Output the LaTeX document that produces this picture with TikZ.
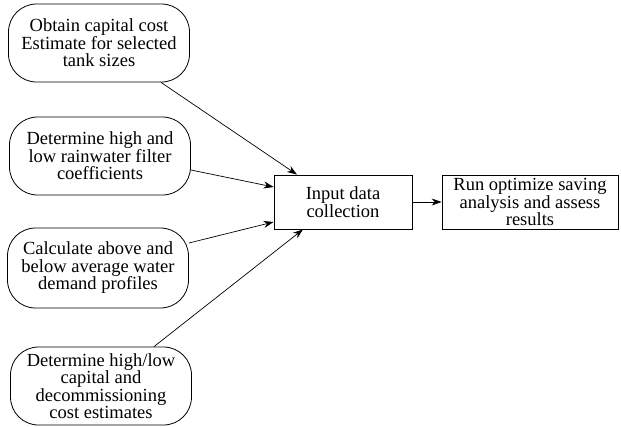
\documentclass[tikz,border=0pt]{standalone}
\usepackage{fontspec}
\setmainfont{Liberation Serif}
\usetikzlibrary{arrows.meta}
\tikzset{
	terminal/.style ={rectangle, rounded corners=28pt, draw=black, line width=0.8pt, minimum width=181pt, minimum height=78pt, align=center, inner sep=1pt, font=\fontsize{18.5}{17.5}\selectfont},
	process/.style  ={rectangle, draw=black, line width=0.8pt, minimum height=54pt, align=center, inner sep=1pt, font=\fontsize{18.5}{17.5}\selectfont},
	flowarrow/.style={-{Stealth[length=10pt, width=7pt]}, line width=0.7pt},
}
\begin{document}
\begin{tikzpicture}[x=1pt, y=-1pt]
	\useasboundingbox (0,0) rectangle (621,426);
	% inputs on the left
	\node[terminal] (cost)   at (99,43)  {Obtain capital cost\\Estimate for selected\\tank sizes};
	\node[terminal] (filter) at (100,156) {Determine high and\\low rainwater filter\\coefficients};
	\node[terminal, minimum height=80pt] (demand) at (98,268) {Calculate above and\\below average water\\demand profiles};
	\node[terminal] (decom)  at (101,386) {Determine high/low\\capital and\\decommissioning\\cost estimates};
	% processing steps
	\node[process, minimum width=138pt] (input) at (343,202) {Input data\\collection};
	\node[process, minimum width=176pt] (run)   at (530,202) {Run optimize saving\\analysis and assess\\results};
	% connectors
	\draw[flowarrow] ([xshift=62pt]cost.south) -- ([xshift=-46pt]input.north);
	\draw[flowarrow] ([yshift=-14pt]filter.east) -- ([yshift=15pt]input.west);
	\draw[flowarrow] ([yshift=25pt]demand.east) -- ([yshift=-20pt]input.west);
	\draw[flowarrow] ([xshift=53pt]decom.north) -- ([xshift=-40pt]input.south);
	\draw[flowarrow] (input) -- (run);
\end{tikzpicture}
\end{document}
